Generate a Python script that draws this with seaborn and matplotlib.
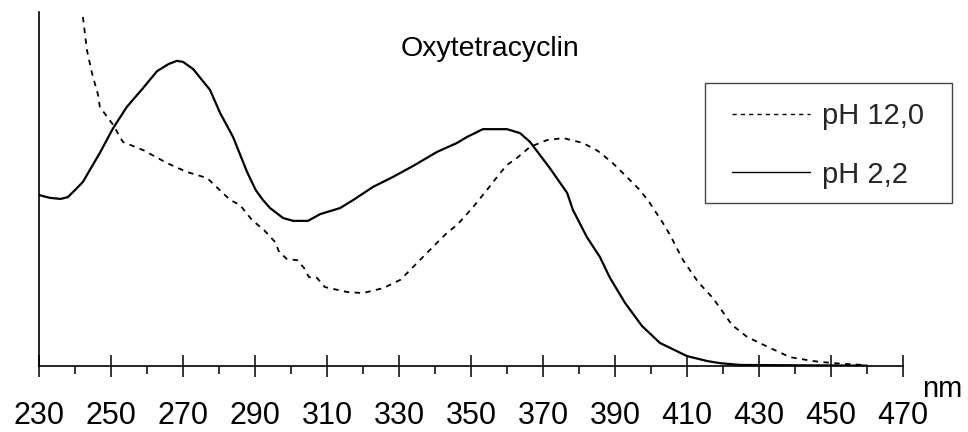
import matplotlib
matplotlib.use("Agg")
import matplotlib.pyplot as plt
import seaborn as sns
import pandas as pd
from matplotlib.ticker import FixedLocator
from matplotlib.patches import Rectangle

sns.set_theme(style="white")
plt.rcParams["font.family"] = ["Liberation Sans", "DejaVu Sans"]

# Absorption spectra of oxytetracycline (relative absorbance)
wl_acid = [230.0, 233.0, 236.0, 238.0, 240.0, 242.2, 246.9, 250.6, 254.4, 258.9,
           262.8, 266.0, 268.3, 270.0, 272.8, 277.5, 280.3, 283.9, 287.8, 290.2,
           292.2, 294.2, 297.8, 300.6, 304.7, 308.1, 313.6, 317.3, 322.8, 328.3,
           333.9, 340.6, 346.1, 348.9, 353.3, 360.0, 363.6, 366.4, 371.9, 376.7,
           378.3, 382.2, 385.8, 388.6, 392.8, 397.5, 402.5, 410.0, 415.6, 419.2,
           424.7, 440.0, 460.0]
abs_acid = [0.483, 0.475, 0.472, 0.477, 0.497, 0.520, 0.602, 0.672, 0.732, 0.785,
            0.833, 0.853, 0.862, 0.859, 0.839, 0.780, 0.715, 0.647, 0.548, 0.497,
            0.469, 0.446, 0.418, 0.410, 0.410, 0.429, 0.446, 0.469, 0.506, 0.534,
            0.565, 0.605, 0.630, 0.647, 0.669, 0.669, 0.658, 0.633, 0.559, 0.489,
            0.441, 0.364, 0.308, 0.249, 0.178, 0.113, 0.065, 0.028, 0.014, 0.008,
            0.003, 0.002, 0.001]

wl_base = [242.2, 243.3, 244.7, 246.4, 246.9, 250.6, 253.3, 258.9, 265.6, 271.1,
           276.7, 283.1, 285.8, 289.2, 292.5, 295.6, 296.7, 298.9, 301.7, 303.6,
           305.0, 307.2, 309.4, 315.6, 320.0, 325.6, 330.3, 333.1, 335.0, 338.6,
           343.3, 346.1, 350.6, 354.4, 358.1, 360.0, 362.8, 366.4, 371.1, 375.6,
           381.1, 385.3, 389.4, 393.3, 396.9, 399.7, 403.3, 405.3, 408.9, 413.1,
           417.2, 422.5, 426.7, 433.1, 438.6, 445.0, 450.6, 458.9]
abs_base = [0.986, 0.893, 0.828, 0.766, 0.732, 0.681, 0.633, 0.610, 0.573, 0.548,
            0.531, 0.469, 0.455, 0.412, 0.384, 0.350, 0.322, 0.302, 0.299, 0.277,
            0.251, 0.249, 0.223, 0.209, 0.206, 0.220, 0.243, 0.271, 0.291, 0.328,
            0.376, 0.398, 0.449, 0.497, 0.545, 0.568, 0.588, 0.619, 0.638, 0.644,
            0.630, 0.607, 0.573, 0.534, 0.497, 0.460, 0.404, 0.370, 0.299, 0.237,
            0.192, 0.116, 0.082, 0.051, 0.025, 0.014, 0.008, 0.003]

labels = ["pH 12,0", "pH 2,2"]
title = "Oxytetracyclin"
x_unit = "nm"
major_ticks = [230, 250, 270, 290, 310, 330, 350, 370, 390, 410, 430, 450, 470]
minor_ticks = [240, 260, 280, 300, 320, 340, 360, 380, 400, 420, 440, 460]

df = pd.concat([
    pd.DataFrame({"nm": wl_base, "A": abs_base, "Probe": labels[0]}),
    pd.DataFrame({"nm": wl_acid, "A": abs_acid, "Probe": labels[1]}),
], ignore_index=True)

W, H = 968, 432
fig = plt.figure(figsize=(W / 100, H / 100), dpi=100)
ax = fig.add_axes([39 / W, 1 - 366 / H, 864 / W, 354 / H])

sns.lineplot(data=df[df.Probe == labels[0]], x="nm", y="A", ax=ax, color="black",
             linewidth=1.3, linestyle=(0, (3, 3)), label=labels[0], sort=False)
sns.lineplot(data=df[df.Probe == labels[1]], x="nm", y="A", ax=ax, color="black",
             linewidth=1.6, label=labels[1], sort=False)

ax.set_xlim(230, 470)
ax.set_ylim(0, 1.0)
ax.set_xlabel("")
ax.set_ylabel("")
ax.set_yticks([])
ax.xaxis.set_major_locator(FixedLocator(major_ticks))
ax.xaxis.set_minor_locator(FixedLocator(minor_ticks))
ax.tick_params(axis="x", which="major", direction="inout", length=16, width=1.1,
               color="black", labelsize=22, labelcolor="black", pad=17, bottom=True)
ax.tick_params(axis="x", which="minor", direction="out", length=6, width=1.1,
               color="black", bottom=True)
for side in ["top", "right"]:
    ax.spines[side].set_visible(False)
for side in ["left", "bottom"]:
    ax.spines[side].set_color("black")
    ax.spines[side].set_linewidth(1.2)
ax.set_facecolor("white")
fig.patch.set_facecolor("white")

fig.text(490 / W, 1 - 56 / H, title, ha="center", va="baseline",
         fontsize=20.5, color="black")
fig.text(942 / W, 1 - 397 / H, x_unit, ha="center", va="baseline",
         fontsize=21, color="black")

# legend entries without frame, box drawn separately
leg = ax.legend(loc="upper left", bbox_to_anchor=(732 / W, 1 - 102 / H),
                bbox_transform=fig.transFigure, fontsize=21, frameon=False,
                handlelength=2.67, handletextpad=0.4, labelspacing=1.05,
                borderpad=0, borderaxespad=0)
for line in leg.get_lines():
    line.set_linewidth(1.0)
fig.patches.append(Rectangle((705 / W, 1 - 203 / H), 247 / W, 120 / H,
                             transform=fig.transFigure, fill=False,
                             edgecolor="#444444", linewidth=1.0))

fig.savefig("out.png", dpi=100, facecolor="white")
